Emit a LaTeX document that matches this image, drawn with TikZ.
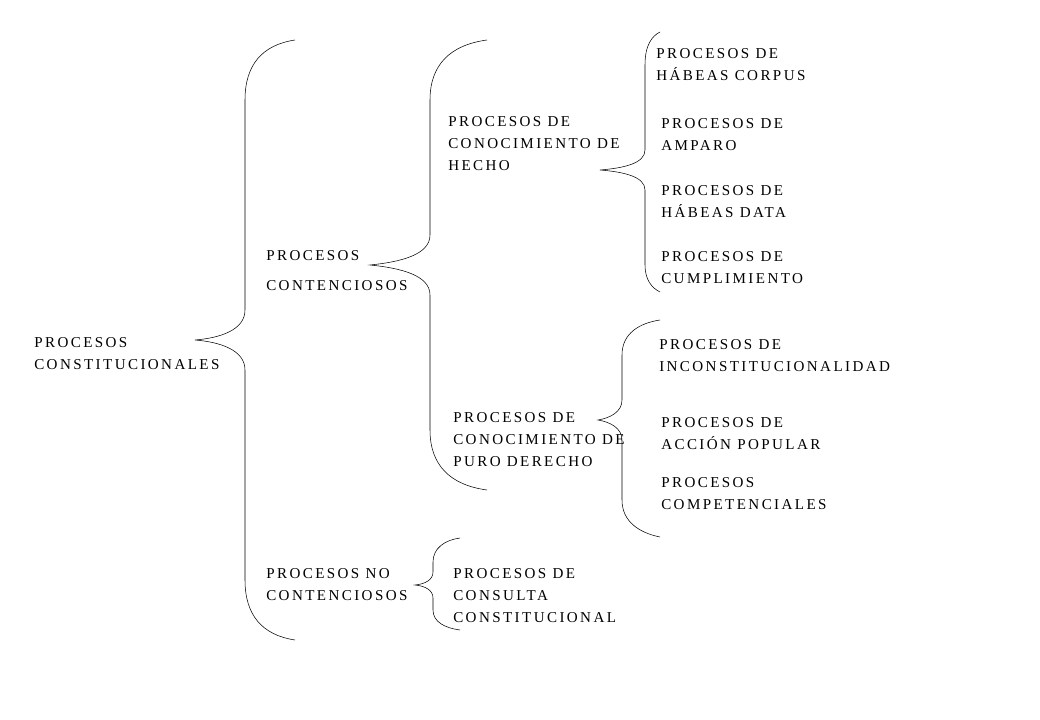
\documentclass[tikz,border=0pt]{standalone}
\usepackage{fontspec}
\setmainfont{Liberation Serif}[LetterSpace=16]
\usepackage{tikz}

\begin{document}
\begin{tikzpicture}[x=0.75pt,y=0.75pt,yscale=-1,xscale=1]
\tikzset{lbl/.style={anchor=north west,inner sep=0.75pt,align=left,font=\fontsize{11.3}{16.5}\selectfont}}
\useasboundingbox (0,0) rectangle (1040,720);

%Brace: constitucionales
\draw (295,40) .. controls (262,45) and (245,65) .. (245,100) -- (245,310) .. controls (245,330) and (220,338) .. (195,340) .. controls (220,342) and (245,350) .. (245,370) -- (245,580) .. controls (245,615) and (262,635) .. (295,640) ;
%Brace: contenciosos
\draw (487,40) .. controls (450,45) and (430,65) .. (430,100) -- (430,235) .. controls (430,255) and (400,262) .. (370,265) .. controls (400,268) and (430,275) .. (430,295) -- (430,430) .. controls (430,465) and (450,485) .. (487,490) ;
%Brace: hecho
\draw (660,32) .. controls (652,36) and (645,45) .. (645,65) -- (645,150) .. controls (645,163) and (625,168) .. (600,170) .. controls (625,172) and (645,177) .. (645,190) -- (645,265) .. controls (645,280) and (652,288) .. (660,292) ;
%Brace: puro derecho
\draw (660,320) .. controls (640,323) and (622,333) .. (622,355) -- (622,400) .. controls (622,412) and (610,418) .. (598,420) .. controls (610,422) and (622,428) .. (622,440) -- (622,500) .. controls (622,522) and (640,533) .. (660,537) ;
%Brace: no contenciosos
\draw (460,538) .. controls (445,540) and (433,548) .. (433,562) -- (433,572) .. controls (433,580) and (425,584) .. (415,585) .. controls (425,586) and (433,590) .. (433,598) -- (433,610) .. controls (433,622) and (445,628) .. (460,630) ;

% Text Node
\node[lbl] (const) at (33,336) {PROCESOS\\CONSTITUCIONALES};
% Text Node
\node[lbl] (cont) at (265,249) {PROCESOS\\[6pt]CONTENCIOSOS};
% Text Node
\node[lbl] (nocont) at (265,567) {PROCESOS NO\\CONTENCIOSOS};
% Text Node
\node[lbl] (hecho) at (447,115) {PROCESOS DE\\CONOCIMIENTO DE\\HECHO};
% Text Node
\node[lbl] (puro) at (452,411) {PROCESOS DE\\CONOCIMIENTO DE\\PURO DERECHO};
% Text Node
\node[lbl] (consulta) at (452,567) {PROCESOS DE\\CONSULTA\\CONSTITUCIONAL};
% Text Node
\node[lbl] (habcorp) at (655,47) {PROCESOS DE\\HÁBEAS CORPUS};
% Text Node
\node[lbl] (amparo) at (660,117) {PROCESOS DE\\AMPARO};
% Text Node
\node[lbl] (habdata) at (660,184) {PROCESOS DE\\HÁBEAS DATA};
% Text Node
\node[lbl] (cumpl) at (660,250) {PROCESOS DE\\CUMPLIMIENTO};
% Text Node
\node[lbl] (incons) at (658,338) {PROCESOS DE\\INCONSTITUCIONALIDAD};
% Text Node
\node[lbl] (accion) at (660,416) {PROCESOS DE\\ACCIÓN POPULAR};
% Text Node
\node[lbl] (compet) at (660,476) {PROCESOS\\COMPETENCIALES};

\end{tikzpicture}
\end{document}
